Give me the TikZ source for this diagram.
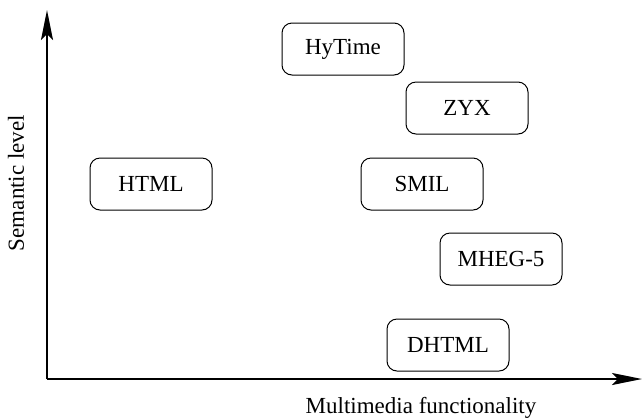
\documentclass[tikz,border=0pt]{standalone}
\usepackage{fontspec}
\setmainfont{Liberation Serif}
\usepackage{tikz}
\usetikzlibrary{arrows.meta, positioning}

\begin{document}
\begin{tikzpicture}[x=0.5pt,y=-0.5pt,
      font=\fontsize{11.5}{13}\selectfont,
      lang/.style={draw,line width=0.5pt,rounded corners=5pt,
                   minimum width=61pt,minimum height=26pt,align=center},
      axis/.style={line width=1.1pt,-{Stealth[length=15pt,width=6pt,inset=3pt]}}]
    \useasboundingbox (0,0) rectangle (642,419);
    % axes
    \coordinate (origin) at (47,379);
    \coordinate (ytip) at (47,10);
    \coordinate (xtip) at (642,379);
    \draw[axis] (origin) -- (ytip);
    \draw[axis] (origin) -- (xtip);
    \node[rotate=90] (ylab) at (16,183) {Semantic level};
    \node (xlab) at (421,408) {Multimedia functionality};
    % languages
    \node[lang] (hytime) at (343,49) {HyTime};
    \node[lang] (zyx) at (467,108) {ZYX};
    \node[lang] (html) at (151,184) {HTML};
    \node[lang] (smil) at (422,184) {SMIL};
    \node[lang] (mheg) at (501,259) {MHEG-5};
    \node[lang] (dhtml) at (448,345) {DHTML};
\end{tikzpicture}
\end{document}
